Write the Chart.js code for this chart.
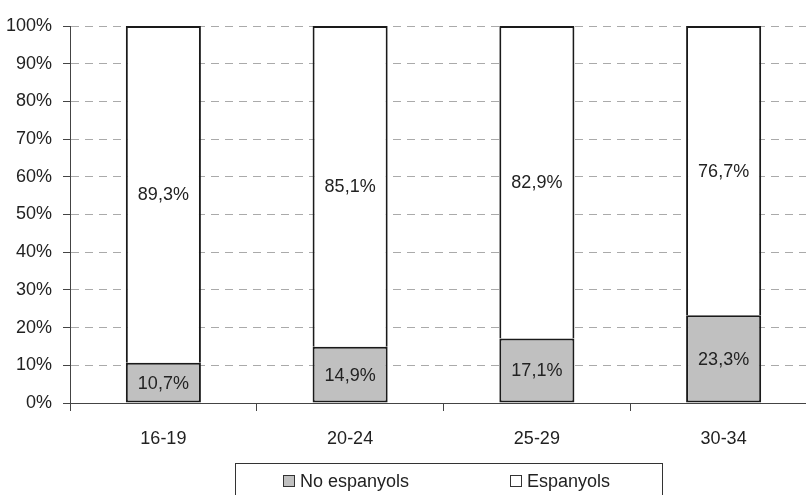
<!DOCTYPE html>
<html>
<head>
<meta charset="utf-8">
<script src="https://cdn.jsdelivr.net/npm/chart.js@4.4.1/dist/chart.umd.min.js"></script>
<style>
  html, body { margin: 0; padding: 0; background: #fff; overflow: hidden; }
  #wrap { position: absolute; left: 0; top: 0; width: 818px; height: 495px; }
</style>
</head>
<body>
<div id="wrap"><canvas id="chart"></canvas></div>
<script>
// age groups and shares (%)
var categories = ['16-19', '20-24', '25-29', '30-34'];
var noEspanyols = [10.7, 14.9, 17.1, 23.3];
var espanyols = [89.3, 85.1, 82.9, 76.7];
var seriesNames = ['No espanyols', 'Espanyols'];
var yTicks = [0, 10, 20, 30, 40, 50, 60, 70, 80, 90, 100];

var FONT = "'Liberation Sans', Arial, sans-serif";
var SIZE = 18;
var TXT = '#222';

function pct(v) {
  return v.toFixed(1).replace('.', ',') + '%';
}

// labels inside each segment
var segmentLabels = {
  id: 'segmentLabels',
  afterDatasetsDraw: function(chart) {
    var ctx = chart.ctx;
    ctx.save();
    ctx.font = SIZE + 'px ' + FONT;
    ctx.fillStyle = TXT;
    ctx.textAlign = 'center';
    ctx.textBaseline = 'middle';
    chart.data.datasets.forEach(function(ds, i) {
      var meta = chart.getDatasetMeta(i);
      meta.data.forEach(function(bar, j) {
        var p = bar.getProps(['x', 'y', 'base'], true);
        ctx.fillText(pct(ds.data[j]), p.x, (p.y + p.base) / 2 + 1);
      });
    });
    ctx.restore();
  }
};

// boxed legend under the axis
var boxedLegend = {
  id: 'boxedLegend',
  afterDraw: function(chart) {
    var ctx = chart.ctx;
    var top = chart.chartArea.bottom + 60;
    var left = 235, right = 662;
    ctx.save();
    ctx.strokeStyle = '#333';
    ctx.lineWidth = 1;
    ctx.strokeRect(left + 0.5, top + 0.5, right - left, 60);
    ctx.font = SIZE + 'px ' + FONT;
    ctx.textBaseline = 'middle';
    var starts = [283, 510];
    var cy = top + 18;
    chart.data.datasets.forEach(function(ds, i) {
      var x = starts[i];
      ctx.fillStyle = ds.backgroundColor;
      ctx.fillRect(x, cy - 6, 12, 12);
      ctx.strokeStyle = '#333';
      ctx.strokeRect(x + 0.5, cy - 5.5, 11, 11);
      ctx.fillStyle = TXT;
      ctx.fillText(ds.label, x + 17, cy + 1);
    });
    ctx.restore();
  }
};

new Chart(document.getElementById('chart'), {
  type: 'bar',
  data: {
    labels: categories,
    datasets: [
      {
        label: seriesNames[0],
        data: noEspanyols,
        backgroundColor: '#c0c0c0',
        borderColor: '#1a1a1a',
        borderWidth: 2,
        borderSkipped: false
      },
      {
        label: seriesNames[1],
        data: espanyols,
        backgroundColor: '#ffffff',
        borderColor: '#1a1a1a',
        borderWidth: 2,
        borderSkipped: 'bottom'
      }
    ]
  },
  options: {
    responsive: true,
    maintainAspectRatio: false,
    animation: false,
    datasets: { bar: { categoryPercentage: 1, barPercentage: 0.402 } },
    layout: { padding: { top: 26, right: 1, bottom: 37, left: 0 } },
    plugins: {
      legend: { display: false },
      tooltip: { enabled: false }
    },
    scales: {
      x: {
        stacked: true,
        grid: {
          offset: true,
          drawOnChartArea: false,
          drawTicks: true,
          tickLength: 8,
          tickColor: '#444'
        },
        border: { color: '#444', width: 1 },
        ticks: { color: TXT, font: { family: FONT, size: SIZE }, padding: 17 },
        afterFit: function(scale) { scale.height = 55; }
      },
      y: {
        stacked: true,
        min: 0,
        max: 100,
        afterBuildTicks: function(scale) {
          scale.ticks = yTicks.map(function(v) { return { value: v }; });
        },
        grid: {
          color: '#aaa',
          lineWidth: 1,
          tickLength: 7,
          tickColor: '#444',
          tickBorderDash: []
        },
        border: { color: '#444', width: 1, dash: [8, 6] },
        ticks: {
          color: TXT,
          font: { family: FONT, size: SIZE },
          padding: 11,
          callback: function(v) { return v + '%'; }
        },
        afterFit: function(scale) { scale.width = 70; }
      }
    }
  },
  plugins: [segmentLabels, boxedLegend]
});
</script>
</body>
</html>
